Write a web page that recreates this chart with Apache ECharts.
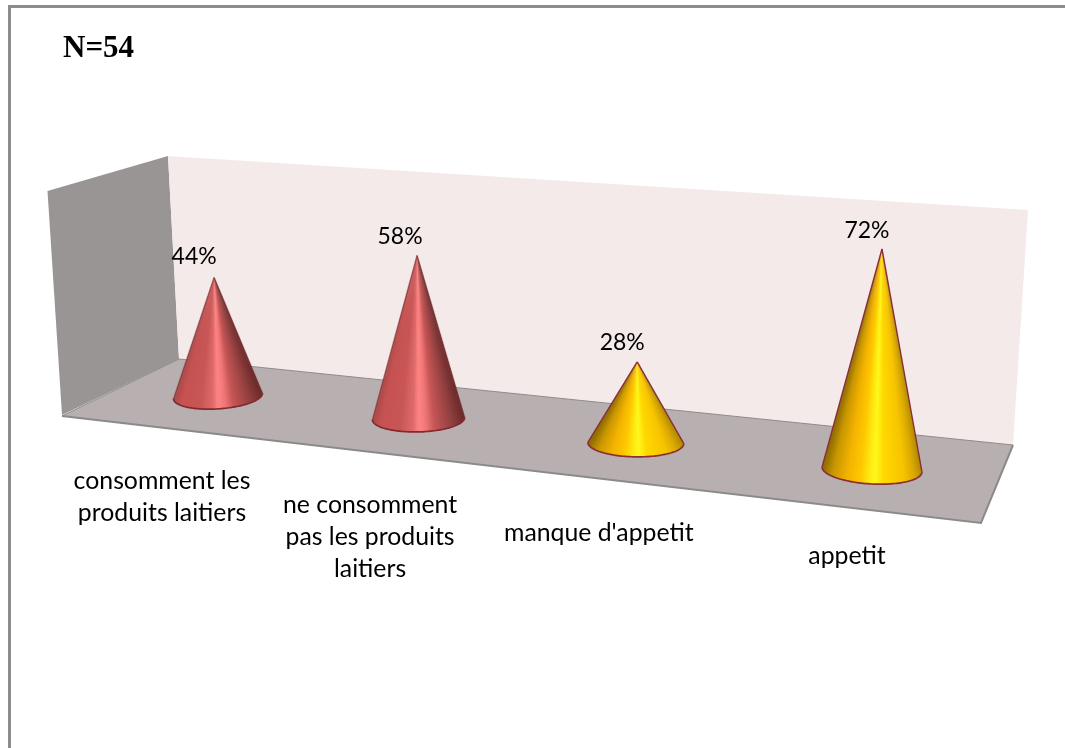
<!DOCTYPE html>
<html>
<head>
<meta charset="utf-8">
<style>html,body{margin:0;padding:0;background:#fff}#c{width:1065px;height:748px}</style>
<script src="https://cdn.jsdelivr.net/npm/echarts@6/dist/echarts.min.js"></script>
</head>
<body>
<div id="c"></div>
<script>
var categories = ["consomment les\nproduits laitiers", "ne consomment\npas les produits\nlaitiers", "manque d'appetit", "appetit"];
var values = [44, 58, 28, 72];
var coneGroups = ["red", "red", "yellow", "yellow"];
var chartNote = "N=54";

var palettes = {
  red: {
    outline: "#86292d", side: "rgba(120,40,40,0.5)",
    stops: [[0,"#a84a4a"],[0.08,"#c65252"],[0.3,"#c95656"],[0.44,"#e06a6a"],[0.5,"#ff8484"],[0.57,"#f47a7a"],[0.68,"#c65555"],[0.88,"#8f3e3e"],[1,"#6c2a2a"]]
  },
  yellow: {
    outline: "#8c2f35", side: "#8c2f35",
    stops: [[0,"#8a6a00"],[0.1,"#c89600"],[0.25,"#f4b400"],[0.38,"#ffc800"],[0.47,"#ffe810"],[0.53,"#fff81c"],[0.62,"#ffd800"],[0.82,"#f8c400"],[0.93,"#d8a800"],[1,"#b08a00"]]
  }
};
var labelOffsets = [[-56,101],[-48.5,118.5],[-37,90],[-25,86.5]];
var valueOffsets = [[-20,-21],[-17,-19],[-15,-19],[-15,-18]];
var GRID = {left:218, right:872, top:126, bottom:396};
// projection of the chart plane (unit square) on to the perspective picture
var Q = [[218,396],[872,469.5],[886,160],[209,121]];
var H = (function(){
  var x0=Q[0][0],y0=Q[0][1],x1=Q[1][0],y1=Q[1][1],x2=Q[2][0],y2=Q[2][1],x3=Q[3][0],y3=Q[3][1];
  var dx1=x1-x2,dx2=x3-x2,sx=x0-x1+x2-x3,dy1=y1-y2,dy2=y3-y2,sy=y0-y1+y2-y3;
  var den=dx1*dy2-dx2*dy1, g=(sx*dy2-dx2*sy)/den, h=(dx1*sy-sx*dy1)/den;
  return {a:x1-x0+g*x1,b:x3-x0+h*x3,c:x0,d:y1-y0+g*y1,e:y3-y0+h*y3,f:y0,g:g,h:h};
})();
function project(p){
  var s=(p[0]-GRID.left)/(GRID.right-GRID.left), r=(GRID.bottom-p[1])/(GRID.bottom-GRID.top);
  var w=H.g*s+H.h*r+1;
  return [(H.a*s+H.b*r+H.c)/w,(H.d*s+H.e*r+H.f)/w];
}
function hex(c){return [parseInt(c.substr(1,2),16),parseInt(c.substr(3,2),16),parseInt(c.substr(5,2),16)];}
function shade(stops,t){
  for(var i=1;i<stops.length;i++){
    if(t<=stops[i][0]){
      var k=(t-stops[i-1][0])/(stops[i][0]-stops[i-1][0]),A=hex(stops[i-1][1]),B=hex(stops[i][1]);
      return "rgb("+[0,1,2].map(function(j){return Math.round(A[j]+(B[j]-A[j])*k);}).join(",")+")";
    }
  }
  return stops[stops.length-1][1];
}
function renderCone(params, api){
  var i=api.value(0), v=api.value(1);
  var base=project(api.coord([i,0])), apex=project(api.coord([i,v]));
  var pal=palettes[coneGroups[i]];
  var rx=44.5+0.0083*(base[0]-218), ry=0.29*rx, tilt=0.008*(base[0]-560);
  var N=72, children=[], rim=[];
  for(var n=0;n<=N;n++){
    var th=Math.PI*n/N, c=Math.cos(th);
    rim.push([base[0]-rx*c, base[1]+ry*Math.sin(th)-tilt*c]);
  }
  for(var n=0;n<N;n++){
    var tm=(rim[n][0]+rim[n+1][0])/2, t=(tm-(base[0]-rx))/(2*rx), col=shade(pal.stops,t);
    var end=rim[Math.min(n+2,N)];
    var pts=[apex,rim[n],rim[n+1]];
    if(n+2<=N) pts.push(end);
    children.push({type:"polygon",shape:{points:pts},style:{fill:col},silent:true});
  }
  children.push({type:"polyline",shape:{points:[apex,rim[0]]},style:{fill:null,stroke:pal.side,lineWidth:1.4}});
  children.push({type:"polyline",shape:{points:[apex,rim[N]]},style:{fill:null,stroke:pal.side,lineWidth:1.4}});
  children.push({type:"polyline",shape:{points:rim},style:{fill:null,stroke:pal.outline,lineWidth:1.7}});
  children.push({type:"text",style:{text:values[i]+"%",x:apex[0]+valueOffsets[i][0],y:apex[1]+valueOffsets[i][1],align:"center",verticalAlign:"middle",font:"23px Lato",fill:"#000"}});
  children.push({type:"text",style:{text:categories[i],x:base[0]+labelOffsets[i][0],y:base[1]+labelOffsets[i][1],align:"center",verticalAlign:"middle",font:"24.8px Lato",lineHeight:32,fill:"#000"}});
  return {type:"group",children:children};
}
function poly(points,fill,stroke,lw){
  return {type:"polygon",z:-2,silent:true,shape:{points:points},style:{fill:fill,stroke:stroke||null,lineWidth:lw||0}};
}
function line(points,stroke,lw){
  return {type:"polyline",z:-1,silent:true,shape:{points:points},style:{fill:null,stroke:stroke,lineWidth:lw}};
}
var chart=echarts.init(document.getElementById("c"),null,{renderer:"canvas"});
chart.setOption({
  animation:false,
  backgroundColor:"#fff",
  title:{text:chartNote,left:58,top:28,textStyle:{fontFamily:"Liberation Serif",fontWeight:"bold",fontSize:31,color:"#000"}},
  grid:{left:GRID.left,width:GRID.right-GRID.left,top:GRID.top,height:GRID.bottom-GRID.top},
  xAxis:{type:"category",data:categories,boundaryGap:false,show:false},
  yAxis:{type:"value",min:0,max:100,show:false},
  graphic:{elements:[
    line([[9.5,748],[9.5,6.5],[1065,6.5]],"#8c8c8c",3),
    poly([[47.5,191],[168,156],[179,359],[62,415]],"#9a9595"),
    poly([[168,156],[1028,210],[1013,445],[179,359]],"#f5eaea"),
    poly([[62,416],[179,359],[1013,445],[981,523]],"#b8b0b0"),
    line([[62,416],[179,359],[1013,445]],"#8f8b8b",1),
    line([[62,416],[981,523],[1013,445]],"#8a8a8a",2)
  ]},
  series:[{type:"custom",coordinateSystem:"cartesian2d",clip:false,renderItem:renderCone,
    encode:{x:0,y:1},
    data:values.map(function(v,i){return [i,v];})}]
});
</script>
</body>
</html>
